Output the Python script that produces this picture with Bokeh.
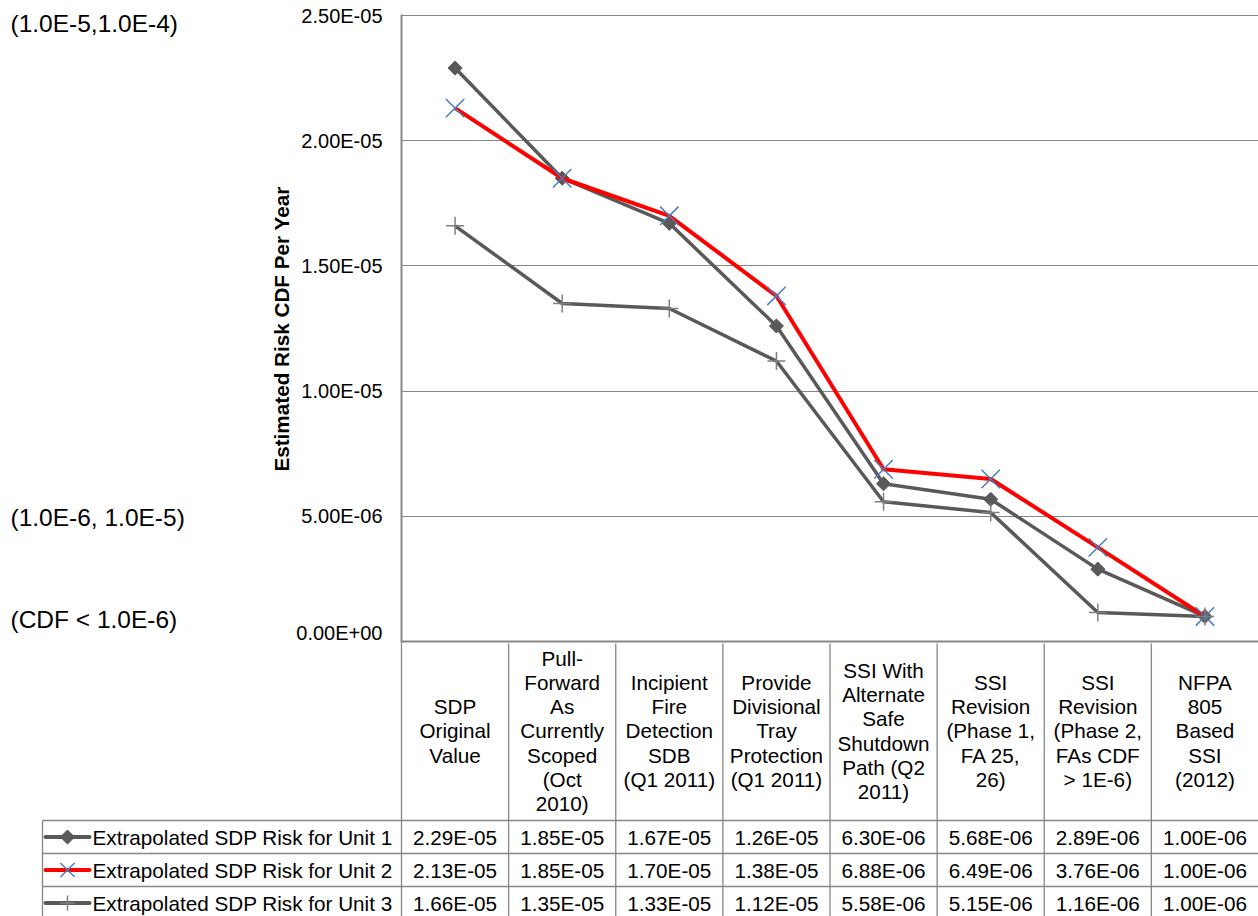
import math
from bokeh.plotting import figure
from bokeh.layouts import column, row
from bokeh.models import Range1d, FixedTicker, Span
from bokeh.core.properties import value
from bokeh.embed import file_html
from bokeh.resources import INLINE

# ---------------- data ----------------
categories = [
    "SDP\nOriginal\nValue",
    "Pull-\nForward\nAs\nCurrently\nScoped\n(Oct\n2010)",
    "Incipient\nFire\nDetection\nSDB\n(Q1 2011)",
    "Provide\nDivisional\nTray\nProtection\n(Q1 2011)",
    "SSI With\nAlternate\nSafe\nShutdown\nPath (Q2\n2011)",
    "SSI\nRevision\n(Phase 1,\nFA 25,\n26)",
    "SSI\nRevision\n(Phase 2,\nFAs CDF\n> 1E-6)",
    "NFPA\n805\nBased\nSSI\n(2012)",
]
series_names = [
    "Extrapolated SDP Risk for Unit 1",
    "Extrapolated SDP Risk for Unit 2",
    "Extrapolated SDP Risk for Unit 3",
]
unit1 = [2.29e-05, 1.85e-05, 1.67e-05, 1.26e-05, 6.30e-06, 5.68e-06, 2.89e-06, 1.00e-06]
unit2 = [2.13e-05, 1.85e-05, 1.70e-05, 1.38e-05, 6.88e-06, 6.49e-06, 3.76e-06, 1.00e-06]
unit3 = [1.66e-05, 1.35e-05, 1.33e-05, 1.12e-05, 5.58e-06, 5.15e-06, 1.16e-06, 1.00e-06]

y_ticks = [0.0, 5e-06, 1e-05, 1.5e-05, 2e-05, 2.5e-05]
y_tick_labels = ["0.00E+00", "5.00E-06", "1.00E-05", "1.50E-05", "2.00E-05", "2.50E-05"]

band_labels = ["(1.0E-5,1.0E-4)", "(1.0E-6, 1.0E-5)", "(CDF < 1.0E-6)"]
band_label_y = [2.47e-05, 4.95e-06, 8.8e-07]

# ---------------- layout constants ----------------
W, H = 1258, 916
LEFT_W = 200
FRAME_L = 401           # left edge of plot frame within full width
TOP_PX = 15             # y pixel of top tick
ZERO_PX = 641           # y pixel of zero
EXTRA_BOT = 2
EXTRA_TOP = 1
MAIN_H = ZERO_PX + EXTRA_BOT
HEADER_BOTTOM = 820
ROW_H = 33
LEGEND_LEFT = 42
FONT = "Liberation Sans"
TABLE_FS = "20.7px"
GRID_C = "#878787"
LINE_GRAY = "#595959"
MARK_GRAY = "#7f7f7f"
RED = "#ff0000"
BLUE = "#4a7ebb"

ymax = y_ticks[-1]
per_px = ymax / (ZERO_PX - TOP_PX)
yr = Range1d(-EXTRA_BOT * per_px, ymax + EXTRA_TOP * per_px)

# ---------------- left label panel ----------------
pl = figure(width=LEFT_W, height=MAIN_H, x_range=Range1d(0, LEFT_W), y_range=yr,
            x_axis_type=None, y_axis_type=None, toolbar_location=None,
            output_backend="svg", min_border=0, min_border_top=TOP_PX - EXTRA_TOP,
            outline_line_color=None)
pl.grid.visible = False
pl.text(x=[10] * len(band_labels), y=band_label_y, text=band_labels,
        text_font=value(FONT), text_font_size="24.5px", text_color="black",
        text_align="left", text_baseline="middle")

# ---------------- main chart ----------------
p = figure(width=W - LEFT_W, height=MAIN_H, x_range=Range1d(-0.5, len(categories) - 0.5),
           y_range=yr, x_axis_type=None, toolbar_location=None, output_backend="svg",
           min_border_left=FRAME_L - LEFT_W, min_border_right=0,
           min_border_top=TOP_PX - EXTRA_TOP, min_border_bottom=0,
           outline_line_color=None)
ticker = FixedTicker(ticks=y_ticks)
ax = p.yaxis[0]
ax.ticker = ticker
ax.major_label_overrides = {t: l for t, l in zip(y_ticks, y_tick_labels)}
ax.axis_line_color = GRID_C
ax.axis_line_width = 2
ax.major_tick_line_color = None
ax.minor_tick_line_color = None
ax.major_tick_out = 0
ax.major_tick_in = 0
ax.major_label_standoff = 19
ax.major_label_text_font = FONT
ax.major_label_text_font_size = "20px"
ax.major_label_text_color = "black"
ax.axis_label = "Estimated Risk CDF Per Year"
ax.axis_label_text_font = FONT
ax.axis_label_text_font_size = "20.7px"
ax.axis_label_text_font_style = "bold"
ax.axis_label_text_color = "black"
ax.axis_label_standoff = 0
p.ygrid.ticker = ticker
p.ygrid.grid_line_color = GRID_C
p.ygrid.grid_line_width = 1
p.add_layout(Span(location=0, dimension="width", line_color=GRID_C, line_width=2))

xs = list(range(len(categories)))
# Unit 1
p.line(xs, unit1, line_color=LINE_GRAY, line_width=3.5, line_join="round")
p.scatter(xs, unit1, marker="square", angle=math.pi / 4, size=10,
          fill_color=LINE_GRAY, line_color=LINE_GRAY)
# Unit 2
p.line(xs, unit2, line_color=RED, line_width=4, line_join="round")
p.scatter(xs, unit2, marker="x", size=26, line_color=BLUE, line_width=1.5)
# Unit 3
p.line(xs, unit3, line_color=LINE_GRAY, line_width=3.5, line_join="round")
p.scatter(xs, unit3, marker="cross", size=18, line_color=MARK_GRAY, line_width=1.5)

# ---------------- data table ----------------
U = (W - FRAME_L) / len(categories)


def px2x(px):
    return (px - FRAME_L) / U - 0.5


t = figure(width=W, height=H - MAIN_H, x_range=Range1d(px2x(0), px2x(W)),
           y_range=Range1d(H, MAIN_H), x_axis_type=None, y_axis_type=None,
           toolbar_location=None, output_backend="svg", min_border=0,
           outline_line_color=None)
t.grid.visible = False

# vertical category lines
bounds = [i - 0.5 for i in range(len(categories))]
t.segment(x0=bounds, y0=[MAIN_H - 2] * len(bounds), x1=bounds, y1=[H + 2] * len(bounds),
          line_color=GRID_C, line_width=1.3)
# legend column left border
lx = px2x(LEGEND_LEFT)
t.segment(x0=[lx], y0=[HEADER_BOTTOM], x1=[lx], y1=[H + 2], line_color=GRID_C, line_width=1.3)
# horizontal row lines
row_tops = [HEADER_BOTTOM + i * ROW_H for i in range(len(series_names) + 1)]
t.segment(x0=[lx] * len(row_tops), y0=row_tops, x1=[px2x(W)] * len(row_tops), y1=row_tops,
          line_color=GRID_C, line_width=1.3)

# header texts
header_cy = (ZERO_PX + HEADER_BOTTOM) / 2
t.text(x=xs, y=[header_cy] * len(xs), text=categories, text_font=value(FONT),
       text_font_size=TABLE_FS, text_color="black", text_align="center",
       text_baseline="middle", text_line_height=1.05)

# values
all_series = [unit1, unit2, unit3]
for r, vals in enumerate(all_series):
    cy = HEADER_BOTTOM + (r + 0.5) * ROW_H
    t.text(x=xs, y=[cy] * len(xs), text=["%.2E" % v for v in vals], text_font=value(FONT),
           text_font_size=TABLE_FS, text_color="black", text_align="center",
           text_baseline="middle")

# legend keys + names
key_x0, key_x1, key_xc, name_x = px2x(45), px2x(89), px2x(67), px2x(92)
row_c = [HEADER_BOTTOM + (r + 0.5) * ROW_H for r in range(3)]
key_colors = [LINE_GRAY, RED, LINE_GRAY]
for r in range(3):
    t.segment(x0=[key_x0], y0=[row_c[r]], x1=[key_x1], y1=[row_c[r]],
              line_color=key_colors[r], line_width=4, line_cap="round")
t.scatter([key_xc], [row_c[0]], marker="square", angle=math.pi / 4, size=10,
          fill_color=LINE_GRAY, line_color=LINE_GRAY)
t.scatter([key_xc], [row_c[1]], marker="x", size=20, line_color=BLUE, line_width=1.5)
t.scatter([key_xc], [row_c[2]], marker="cross", size=15, line_color=MARK_GRAY, line_width=1.5)
t.text(x=[name_x] * 3, y=row_c, text=series_names, text_font=value(FONT),
       text_font_size=TABLE_FS, text_color="black", text_align="left", text_baseline="middle")

layout = column(row(pl, p), t)
open("out.html", "w").write(file_html(layout, INLINE))
